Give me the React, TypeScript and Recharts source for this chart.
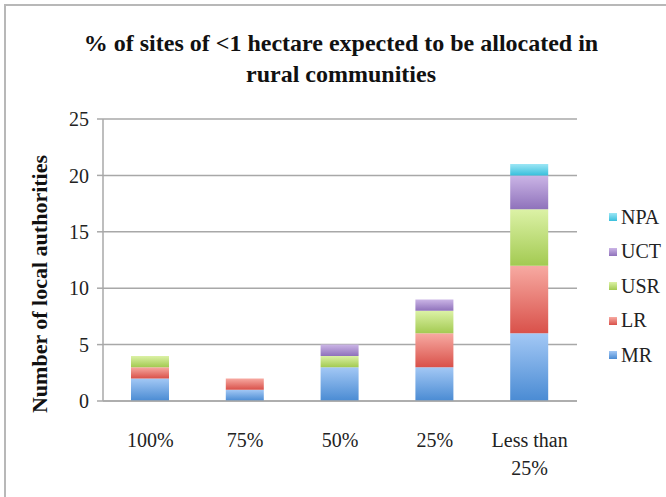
import { BarChart, Bar, XAxis, YAxis, CartesianGrid } from "recharts"

const categories = ["100%", "75%", "50%", "25%", "Less than 25%"]
const mr = [2, 1, 3, 3, 6]
const lr = [1, 1, 0, 3, 6]
const usr = [1, 0, 1, 2, 5]
const uct = [0, 0, 1, 1, 3]
const npa = [0, 0, 0, 0, 1]
const yTicks = [0, 5, 10, 15, 20, 25]

const series = [
  { key: "MR", values: mr, top: "#a3c8f5", bottom: "#4a8bd3" },
  { key: "LR", values: lr, top: "#f7aaa2", bottom: "#d9514a" },
  { key: "USR", values: usr, top: "#dcf2a6", bottom: "#a3ca52" },
  { key: "UCT", values: uct, top: "#cbb5e6", bottom: "#8f72bb" },
  { key: "NPA", values: npa, top: "#9be6f5", bottom: "#39bfdc" },
]

const data = categories.map((name, i) => {
  const row: any = { name }
  series.forEach((s) => (row[s.key] = s.values[i]))
  return row
})

const FONT = "'Liberation Serif', 'DejaVu Serif', serif"

const XTick = ({ x, y, payload }: any) => {
  const text: string = payload.value
  const cut = text.lastIndexOf(" ")
  const lines = text.length > 8 ? [text.slice(0, cut), text.slice(cut + 1)] : [text]
  return (
    <text x={x} y={y} textAnchor="middle" fontFamily={FONT} fontSize={20} fill="#222">
      {lines.map((l, i) => (
        <tspan key={i} x={x} dy={i === 0 ? 38 : 28}>
          {l}
        </tspan>
      ))}
    </text>
  )
}

export default function App() {
  return (
    <div style={{ position: "fixed", left: 0, top: 0, width: 666, height: 497, overflow: "hidden", background: "#fff" }}>
      <div
        style={{
          position: "absolute",
          left: 4,
          top: 4,
          width: 700,
          height: 520,
          border: "2px solid #b8b8b8",
        }}
      />
      <div
        style={{
          position: "absolute",
          left: 0,
          width: 682,
          top: 28,
          textAlign: "center",
          fontFamily: FONT,
          fontWeight: "bold",
          fontSize: 24,
          lineHeight: "31px",
          color: "#111",
        }}
      >
        % of sites of &lt;1 hectare expected to be allocated in
        <br />
        rural communities
      </div>
      <div
        style={{
          position: "absolute",
          left: 40,
          top: 284,
          transform: "translate(-50%, -50%) rotate(-90deg)",
          whiteSpace: "nowrap",
          fontFamily: FONT,
          fontWeight: "bold",
          fontSize: 22,
          color: "#111",
        }}
      >
        Number of local authorities
      </div>
      <div style={{ position: "absolute", left: 609, top: 200, fontFamily: FONT, fontSize: 20, color: "#222" }}>
        {[...series].reverse().map((s) => (
          <div key={s.key} style={{ display: "flex", alignItems: "center", height: 34.5 }}>
            <span
              style={{
                display: "inline-block",
                width: 8,
                height: 8,
                marginRight: 4,
                background: `linear-gradient(${s.top}, ${s.bottom})`,
              }}
            />
            <span>{s.key}</span>
          </div>
        ))}
      </div>
      <div style={{ position: "absolute", left: 0, top: 0 }}>
        <BarChart width={666} height={497} data={data} margin={{ top: 119, right: 89, bottom: 0, left: 43 }}>
          <defs>
            {series.map((s) => (
              <linearGradient key={s.key} id={`g-${s.key}`} x1="0" y1="0" x2="0" y2="1">
                <stop offset="0%" stopColor={s.top} />
                <stop offset="100%" stopColor={s.bottom} />
              </linearGradient>
            ))}
          </defs>
          <CartesianGrid vertical={false} stroke="#a8a8a8" strokeWidth={1.5} />
          <XAxis
            xAxisId="cat"
            dataKey="name"
            height={96}
            axisLine={{ stroke: "#a8a8a8", strokeWidth: 1.5 }}
            tickLine={false}
            tick={<XTick />}
            interval={0}
          />
          <XAxis
            xAxisId="b"
            type="number"
            domain={[0, 5]}
            ticks={[0, 1, 2, 3, 4, 5]}
            height={0}
            axisLine={false}
            tick={false}
            tickSize={6}
            tickLine={{ stroke: "#a8a8a8", strokeWidth: 1.5 }}
          />
          <YAxis
            width={60}
            domain={[0, 25]}
            ticks={yTicks}
            axisLine={{ stroke: "#a8a8a8", strokeWidth: 1.5 }}
            tickLine={{ stroke: "#a8a8a8", strokeWidth: 1.5 }}
            tickSize={6}
            tickMargin={8}
            tick={{ fontFamily: FONT, fontSize: 20, fill: "#222" }}
          />
          {series.map((s) => (
            <Bar
              key={s.key}
              xAxisId="cat"
              dataKey={s.key}
              stackId="a"
              barSize={38}
              fill={`url(#g-${s.key})`}
              isAnimationActive={false}
            />
          ))}
        </BarChart>
      </div>
    </div>
  )
}
